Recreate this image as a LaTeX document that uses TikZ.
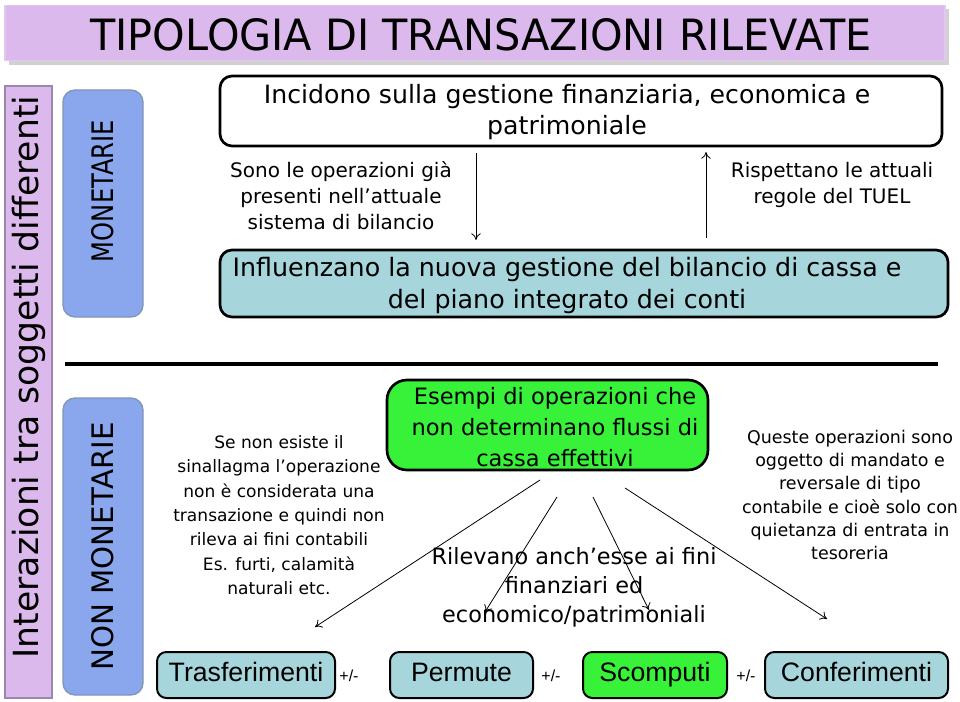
\documentclass[tikz,border=0pt]{standalone}
\usepackage{fontspec}
\setmainfont{DejaVu Sans}
\newfontfamily\arialf{Liberation Sans}
\usetikzlibrary{arrows.meta}
\definecolor{lav}{HTML}{DCB9EC}
\definecolor{lavborder}{HTML}{9C86AC}
\definecolor{bluebox}{HTML}{8AA7EE}
\definecolor{blueborder}{HTML}{8196B4}
\definecolor{tealbox}{HTML}{A6D6DB}
\definecolor{greenbox}{HTML}{38F23A}
\tikzset{
  rbox/.style={draw=black, line width=2pt, rounded corners=9pt, inner sep=0pt},
  bbox/.style={draw=black, line width=1.5pt, rounded corners=7pt, inner sep=0pt, minimum height=34.5pt, text height=14pt, text depth=4pt, font=\arialf\fontsize{20}{22}\selectfont},
  catbox/.style={draw=blueborder, line width=1pt, fill=bluebox, rounded corners=9pt, rotate=90, minimum height=60pt, inner sep=0pt},
  txt/.style={align=center, inner sep=0pt},
  pm/.style={font=\arialf\fontsize{12}{14}\selectfont, inner sep=0pt},
  arr/.style={-{To[length=5pt,width=7pt]}, line width=0.6pt},
}
\begin{document}
\begin{tikzpicture}[x=0.75pt,y=-0.75pt]
\useasboundingbox (0,0) rectangle (960,702);
\fill[white] (0,0) rectangle (960,702);
% title bar
\fill[black!18] (9,9) rectangle (949,65);
\node[fill=lav, draw=lav!80!white, line width=1pt, minimum width=705pt, minimum height=41.25pt, inner sep=0pt] (title) at (475,33) {};
\node[txt] (titletext) at (481,35) {\resizebox{586pt}{24pt}{TIPOLOGIA DI TRANSAZIONI RILEVATE}};
% left bar
\node[fill=lav, draw=lavborder, line width=0.8pt, rotate=90, minimum width=459pt, minimum height=35.25pt, inner sep=0pt] (leftbar) at (28.5,392) {};
\node[txt, rotate=90] (leftbartext) at (28.5,377) {\resizebox{422pt}{!}{Interazioni tra soggetti differenti}};
% category boxes
\node[catbox, minimum width=170.25pt] (mon) at (103,203.5) {};
\node[txt, rotate=90] (montext) at (103,191) {\resizebox{106.5pt}{16.5pt}{MONETARIE}};
\node[catbox, minimum width=222.75pt] (nonmon) at (103,546.5) {\resizebox{186pt}{16.5pt}{NON MONETARIE}};
% top box
\node[rbox, fill=white, minimum width=541.5pt, minimum height=52.5pt] (top) at (581,111) {};
\node[txt, font=\fontsize{18.9}{23.25}\selectfont] (toptext) at (567,112) {Incidono sulla gestione finanziaria, economica e\\patrimoniale};
% teal box
\node[rbox, fill=tealbox, minimum width=546pt, minimum height=50.25pt] (teal) at (584,283.5) {};
\node[txt, font=\fontsize{19}{24}\selectfont] (tealtext) at (567,286) {Influenzano la nuova gestione del bilancio di cassa e\\del piano integrato dei conti};
% side texts
\node[txt, font=\fontsize{15}{19.5}\selectfont] (sono) at (341,196) {Sono le operazioni già\\presenti nell’attuale\\sistema di bilancio};
\node[txt, font=\fontsize{15}{19.5}\selectfont] (risp) at (832,185) {Rispettano le attuali\\regole del TUEL};
\coordinate (d1) at (476,153);
\coordinate (d2) at (476,240);
\coordinate (u1) at (706,238);
\coordinate (u2) at (706,152);
\draw[arr] (d1) -- (d2);
\draw[arr] (u1) -- (u2);
% separator line
\coordinate (s1) at (65,364);
\coordinate (s2) at (938,364);
\draw[line width=3pt] (s1) -- (s2);
% green box
\node[rbox, fill=greenbox, rounded corners=15pt, minimum width=240.75pt, minimum height=67.5pt] (green) at (547.5,425) {};
\node[txt, font=\fontsize{16.9}{23.25}\selectfont] (greentext) at (555,427) {Esempi di operazioni che\\non determinano flussi di\\cassa effettivi};
% small texts
\node[txt, font=\fontsize{12.8}{18.25}\selectfont] (senon) at (279,515) {Se non esiste il\\sinallagma l’operazione\\non è considerata una\\transazione e quindi non\\rileva ai fini contabili\\Es. furti, calamità\\naturali etc.};
\node[txt, font=\fontsize{13.1}{17.4}\selectfont] (queste) at (850,495) {Queste operazioni sono\\oggetto di mandato e\\reversale di tipo\\contabile e cioè solo con\\quietanza di entrata in\\tesoreria};
\node[txt, font=\fontsize{16.8}{21.75}\selectfont] (rilev) at (574,587) {Rilevano anch’esse ai fini\\finanziari ed\\economico/patrimoniali};
% fan arrows
\coordinate (f1a) at (540,480);
\coordinate (f1b) at (315,627);
\coordinate (f2a) at (557,497);
\coordinate (f2b) at (485,612);
\coordinate (f3a) at (593,497);
\coordinate (f3b) at (649,610);
\coordinate (f4a) at (625,488);
\coordinate (f4b) at (827,619);
\draw[arr] (f1a) -- (f1b);
\draw[arr] (f2a) -- (f2b);
\draw[arr] (f3a) -- (f3b);
\draw[arr] (f4a) -- (f4b);
% bottom boxes
\node[bbox, fill=tealbox, minimum width=133.5pt] (trasf) at (246,675) {Trasferimenti};
\node[bbox, fill=tealbox, minimum width=107.25pt] (perm) at (461.5,675) {Permute};
\node[bbox, fill=greenbox, minimum width=108pt] (scom) at (655,675) {Scomputi};
\node[bbox, fill=tealbox, minimum width=137.25pt] (conf) at (856.5,675) {Conferimenti};
\node[pm] (pm1) at (349,676) {+/-};
\node[pm] (pm2) at (551,676) {+/-};
\node[pm] (pm3) at (746,676) {+/-};
\end{tikzpicture}
\end{document}
